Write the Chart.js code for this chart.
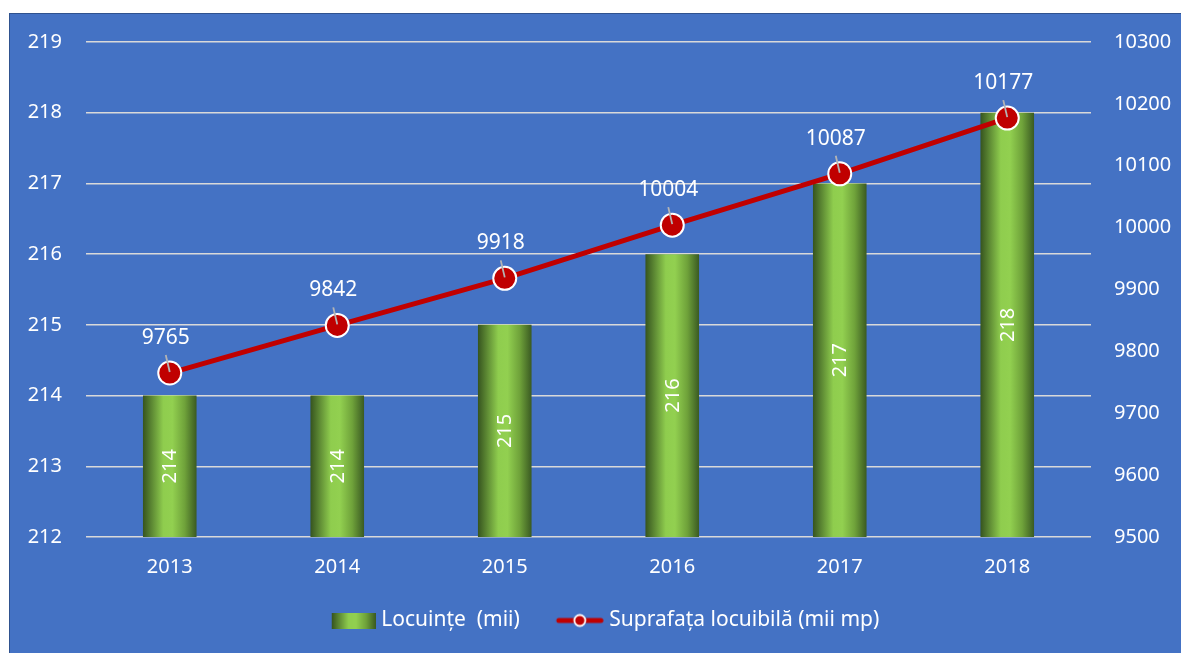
<!DOCTYPE html>
<html>
<head>
<meta charset="utf-8">
<script src="https://cdn.jsdelivr.net/npm/chart.js@4"></script>
<style>
  html, body { margin: 0; padding: 0; background: #ffffff; }
  #box {
    position: absolute; left: 9px; top: 13px;
    width: 1171px; height: 639px;
    background: #4472c4;
    border-left: 1px solid #2f528f; border-top: 1px solid #2f528f;
  }
</style>
</head>
<body>
<div id="box"><canvas id="chart"></canvas></div>
<script>
// date
const years = ["2013", "2014", "2015", "2016", "2017", "2018"];
const locuinte = [214, 214, 215, 216, 217, 218];
const suprafata = [9765, 9842, 9918, 10004, 10087, 10177];
const legendLabels = ["Locuințe  (mii)", "Suprafața locuibilă (mii mp)"];

const FONT = "'Noto Sans', 'DejaVu Sans', sans-serif";
const BAR_PCT = 0.32;

function barGradient(ctx, x0, x1) {
  const g = ctx.createLinearGradient(x0, 0, x1, 0);
  g.addColorStop(0, "#36541f");
  g.addColorStop(0.38, "#8fcd4e");
  g.addColorStop(0.55, "#92d050");
  g.addColorStop(0.78, "#6fa23a");
  g.addColorStop(1, "#3a5a22");
  return g;
}

// imagini pentru legenda (continut aliniat la dreapta)
const LEG_W = 69;
function legendBarImg() {
  const c = document.createElement("canvas");
  c.width = LEG_W; c.height = 16;
  const x = c.getContext("2d");
  x.fillStyle = barGradient(x, LEG_W - 44, LEG_W);
  x.fillRect(LEG_W - 44, 0, 44, 16);
  return c;
}
function legendLineImg() {
  const c = document.createElement("canvas");
  c.width = LEG_W; c.height = 16;
  const x = c.getContext("2d");
  const x0 = LEG_W - 48;
  x.strokeStyle = "#c00000";
  x.lineWidth = 5;
  x.lineCap = "round";
  x.beginPath(); x.moveTo(x0 + 3, 8); x.lineTo(LEG_W - 3, 8); x.stroke();
  x.beginPath(); x.arc(x0 + 24, 8, 5.5, 0, Math.PI * 2);
  x.fillStyle = "#c00000"; x.fill();
  x.lineWidth = 1.8; x.strokeStyle = "#ffffff"; x.stroke();
  return c;
}

const labelsPlugin = {
  id: "valueLabels",
  afterDatasetsDraw(chart) {
    const ctx = chart.ctx;
    const xs = chart.scales.x, ys = chart.scales.y;
    ctx.save();
    ctx.fillStyle = "#ffffff";
    ctx.textAlign = "center";
    ctx.textBaseline = "middle";
    // etichete bare, rotite
    ctx.font = "20px " + FONT;
    locuinte.forEach((v, i) => {
      const cx = xs.getPixelForValue(i);
      const cy = (ys.getPixelForValue(v) + ys.getPixelForValue(ys.min)) / 2;
      ctx.save();
      ctx.translate(cx, cy);
      ctx.rotate(-Math.PI / 2);
      ctx.fillText(String(v), 0, 1);
      ctx.restore();
    });
    // etichete linie cu linii de legatura
    ctx.font = "21px " + FONT;
    chart.getDatasetMeta(1).data.forEach((pt, i) => {
      ctx.strokeStyle = "#b4b4b4";
      ctx.lineWidth = 1.8;
      ctx.beginPath();
      ctx.moveTo(pt.x - 4, pt.y - 18);
      ctx.lineTo(pt.x, pt.y - 1);
      ctx.stroke();
      ctx.fillText(String(suprafata[i]), pt.x - 4, pt.y - 35);
    });
    ctx.restore();
  }
};

function noPad(s) { s.paddingTop = 0; s.paddingBottom = 0; }

const chart = new Chart(document.getElementById("chart"), {
  type: "bar",
  data: {
    labels: years,
    datasets: [
      {
        type: "bar",
        label: legendLabels[0],
        data: locuinte,
        yAxisID: "y",
        order: 2,
        categoryPercentage: 1,
        barPercentage: BAR_PCT,
        backgroundColor: (c) => {
          const xs = c.chart.scales.x;
          if (!xs || !c.chart.chartArea) return "#70ad47";
          const cx = xs.getPixelForValue(c.dataIndex);
          const hw = xs.width / years.length * BAR_PCT / 2;
          return barGradient(c.chart.ctx, cx - hw, cx + hw);
        },
        borderWidth: 0
      },
      {
        type: "line",
        label: legendLabels[1],
        data: suprafata,
        yAxisID: "y1",
        order: 1,
        borderColor: "#c00000",
        borderWidth: 5,
        pointRadius: 11.5,
        pointHoverRadius: 11.5,
        pointBackgroundColor: "#c00000",
        pointBorderColor: "#ffffff",
        pointBorderWidth: 2,
        tension: 0
      }
    ]
  },
  options: {
    responsive: true,
    maintainAspectRatio: false,
    animation: false,
    layout: { padding: { top: 28, bottom: 12, left: 0, right: 0 } },
    scales: {
      x: {
        grid: { display: false },
        border: { display: false },
        ticks: { color: "#ffffff", font: { size: 20, family: FONT }, padding: 10, maxRotation: 0 },
        afterFit(s) { s.height = 53; }
      },
      y: {
        position: "left",
        min: 212, max: 219,
        ticks: { stepSize: 1, color: "#ffffff", font: { size: 20, family: FONT }, padding: 24 },
        grid: { color: "#d9d9d9", lineWidth: 1.5, drawTicks: false },
        border: { display: false },
        afterFit(s) { s.width = 76; noPad(s); }
      },
      y1: {
        position: "right",
        min: 9500, max: 10300,
        ticks: {
          stepSize: 100, color: "#ffffff", font: { size: 20, family: FONT }, padding: 23,
          callback: (v) => String(v)
        },
        grid: { display: false, drawTicks: false },
        border: { display: false },
        afterFit(s) { s.width = 90; noPad(s); }
      }
    },
    plugins: {
      tooltip: { enabled: false },
      legend: {
        position: "bottom",
        labels: {
          color: "#ffffff",
          font: { size: 21, family: FONT },
          usePointStyle: true,
          pointStyleWidth: LEG_W - 10,
          padding: 20,
          generateLabels() {
            const imgs = [legendBarImg(), legendLineImg()];
            return legendLabels.map((t, i) => ({
              text: t,
              fontColor: "#ffffff",
              pointStyle: imgs[i],
              datasetIndex: i,
              lineWidth: 0,
              hidden: false
            }));
          }
        }
      }
    }
  },
  plugins: [labelsPlugin]
});
</script>
</body>
</html>
